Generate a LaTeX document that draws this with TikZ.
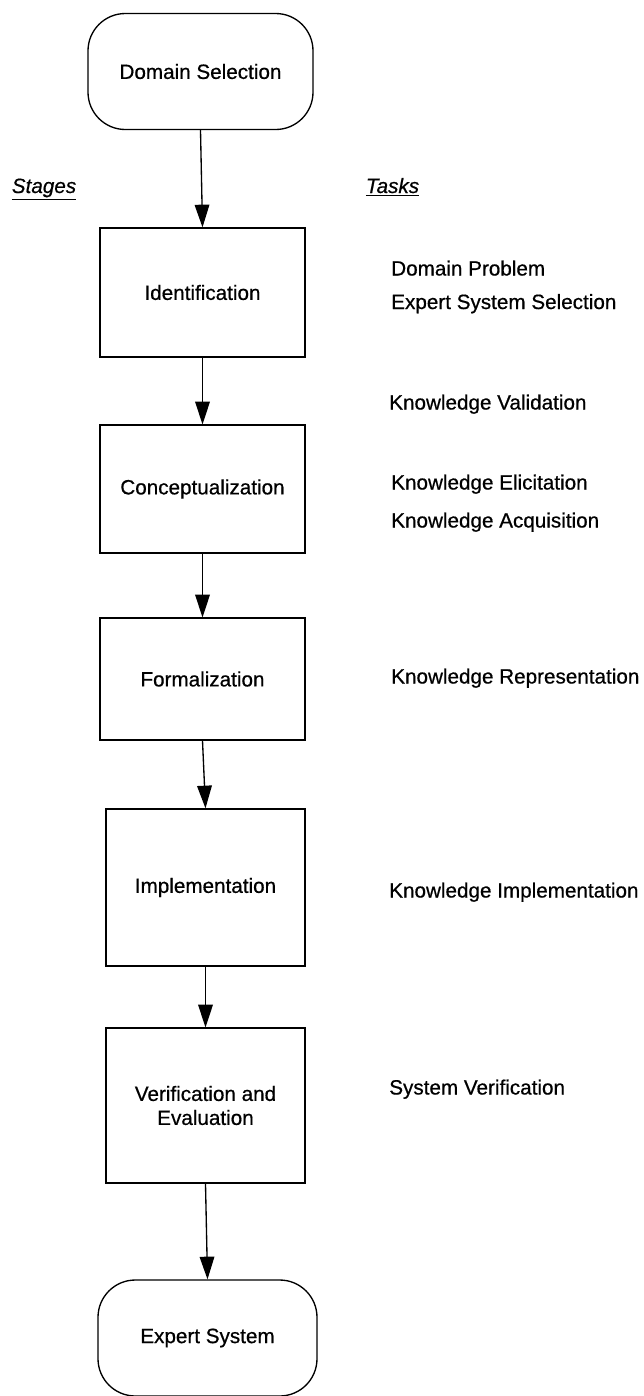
\documentclass[tikz,border=0pt]{standalone}
\usepackage{fontspec}
\setmainfont{Liberation Sans}[FakeBold=0.6]
\usetikzlibrary{arrows.meta}
\begin{document}
\begin{tikzpicture}[x=0.75pt,y=-0.75pt,
  every node/.style={font=\fontsize{15.5}{19}\selectfont},
  stagebox/.style={draw, line width=1pt, inner sep=0pt, align=center},
  termbox/.style={draw, line width=1pt, rounded corners=28pt, inner sep=0pt},
  task/.style={anchor=base west, inner sep=0pt},
  heading/.style={anchor=base, inner sep=0pt},
  flow/.style={line width=1pt, -{Triangle[length=17pt,width=11pt]}}]
\useasboundingbox (0,0) rectangle (643,1396);
\fill[white] (0,0) rectangle (643,1396);

\node[termbox, minimum width=168.75pt, minimum height=87pt] (dom) at (200.5,71.5) {Domain Selection};
\node[stagebox, minimum width=153.75pt, minimum height=96.75pt] (ident) at (202.5,292.5) {Identification};
\node[stagebox, minimum width=153.75pt, minimum height=96pt] (conc) at (202.5,489) {Conceptualization};
\node[stagebox, minimum width=153.75pt, minimum height=91.5pt] (form) at (202.5,679) {Formalization};
\node[stagebox, minimum width=149.25pt, minimum height=117.75pt] (impl) at (205.5,887.5) {Implementation};
\node[stagebox, minimum width=149.25pt, minimum height=116.25pt] (ver) at (205.5,1105.5) {Verification and\\[-1pt]Evaluation};
\node[termbox, minimum width=164.25pt, minimum height=87pt] (es) at (207.5,1338) {Expert System};

\node[heading] (stages) at (44,193) {\underline{\textit{Stages}}};
\node[heading] (tasks) at (392.5,193) {\underline{\textit{Tasks}}};

\node[task] (t1) at (391,275.5) {Domain Problem};
\node[task] (t2) at (391,309) {Expert System Selection};
\node[task] (t3) at (389,409.5) {Knowledge Validation};
\node[task] (t4) at (391,489.5) {Knowledge Elicitation};
\node[task] (t5) at (391,527.5) {Knowledge Acquisition};
\node[task] (t6) at (391,683.5) {Knowledge Representation};
\node[task] (t7) at (389,897.5) {Knowledge Implementation};
\node[task] (t8) at (389,1094.5) {System Verification};

\draw[flow] (dom.south) -- (ident.north);
\draw[flow] (ident.south) -- (conc.north);
\draw[flow] (conc.south) -- (form.north);
\draw[flow] (form.south) -- (impl.north);
\draw[flow] (impl.south) -- (ver.north);
\draw[flow] (ver.south) -- (es.north);
\end{tikzpicture}
\end{document}
